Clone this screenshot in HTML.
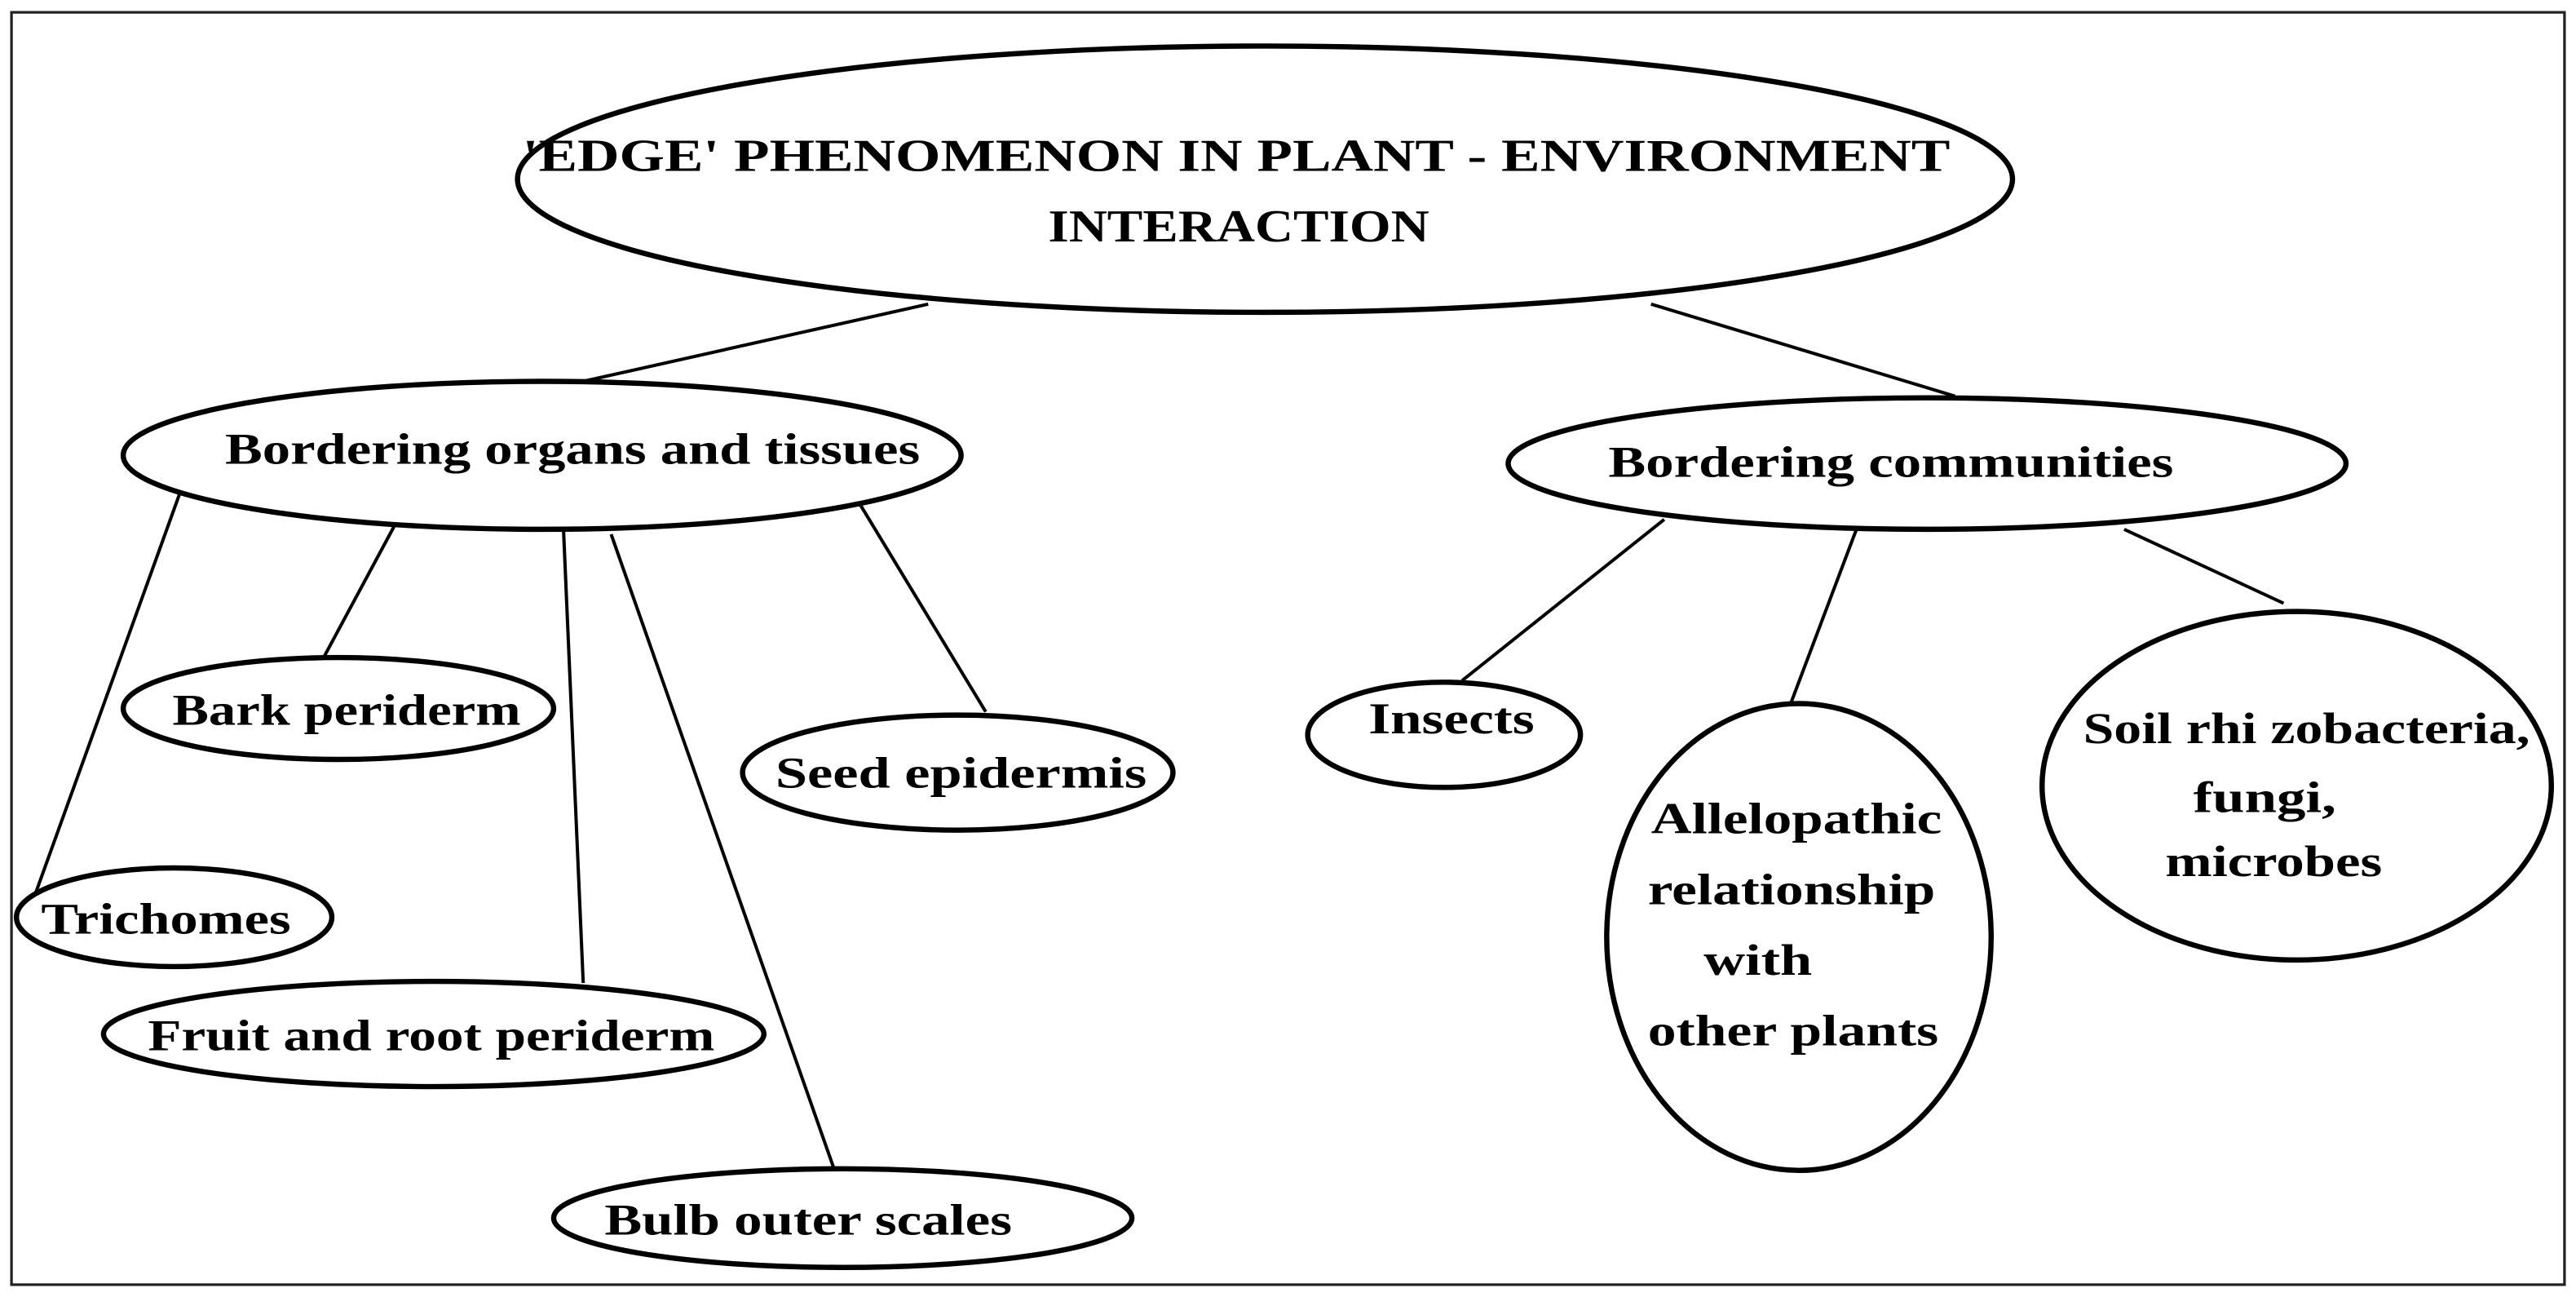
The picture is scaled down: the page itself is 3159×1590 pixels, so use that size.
<!DOCTYPE html>
<html><head><meta charset="utf-8"><style>
html,body{margin:0;padding:0;background:#fff;width:3159px;height:1590px;overflow:hidden}
svg{display:block}
text{font-family:"Liberation Serif",serif;font-weight:bold;fill:#000}
</style></head><body>
<svg width="3159" height="1590" viewBox="0 0 1568 789" preserveAspectRatio="none">
<rect x="7" y="7.5" width="1554" height="774" fill="none" stroke="#222" stroke-width="1.6"/>
<g stroke="#000" stroke-width="2" fill="none">
<line x1="565" y1="185" x2="355" y2="232"/>
<line x1="1005" y1="185" x2="1190" y2="241"/>
<line x1="240" y1="320" x2="197" y2="400"/>
<line x1="112" y1="293" x2="20" y2="548"/>
<line x1="343" y1="322" x2="355" y2="598"/>
<line x1="372" y1="325" x2="508" y2="712"/>
<line x1="523" y1="306" x2="600" y2="433"/>
<line x1="1013" y1="316" x2="890" y2="414"/>
<line x1="1130" y1="322" x2="1090" y2="428"/>
<line x1="1293" y1="322" x2="1390" y2="367"/>
</g>
<g stroke="#000" stroke-width="3.2" fill="#fff">
<ellipse cx="770" cy="109" rx="455" ry="81"/>
<ellipse cx="330" cy="277" rx="255" ry="45"/>
<ellipse cx="1173" cy="282" rx="255" ry="40"/>
<ellipse cx="206" cy="431" rx="131" ry="31"/>
<ellipse cx="106" cy="558" rx="96" ry="30"/>
<ellipse cx="264" cy="629" rx="201" ry="32"/>
<ellipse cx="513" cy="741" rx="176" ry="30"/>
<ellipse cx="583" cy="470" rx="131" ry="35"/>
<ellipse cx="879" cy="447" rx="83" ry="32"/>
<ellipse cx="1095" cy="570" rx="117" ry="142"/>
<ellipse cx="1398" cy="478" rx="155" ry="106"/>
</g>
<g font-size="28">
<text x="318" y="104" textLength="869" lengthAdjust="spacingAndGlyphs">'EDGE' PHENOMENON   IN PLANT -  ENVIRONMENT</text>
<text x="638" y="147" textLength="232" lengthAdjust="spacingAndGlyphs">INTERACTION</text>
</g>
<g font-size="27">
<text x="137" y="282" textLength="423" lengthAdjust="spacingAndGlyphs">Bordering organs and tissues</text>
<text x="979" y="290" textLength="344" lengthAdjust="spacingAndGlyphs">Bordering communities</text>
<text x="105" y="441" textLength="212" lengthAdjust="spacingAndGlyphs">Bark periderm</text>
<text x="25" y="568" textLength="152" lengthAdjust="spacingAndGlyphs">Trichomes</text>
<text x="90" y="639" textLength="345" lengthAdjust="spacingAndGlyphs">Fruit and root periderm</text>
<text x="368" y="751" textLength="248" lengthAdjust="spacingAndGlyphs">Bulb outer scales</text>
<text x="472" y="479" textLength="226" lengthAdjust="spacingAndGlyphs">Seed epidermis</text>
<text x="833" y="446" textLength="101" lengthAdjust="spacingAndGlyphs">Insects</text>
<text x="1005" y="507" textLength="177" lengthAdjust="spacingAndGlyphs">Allelopathic</text>
<text x="1003" y="550" textLength="175" lengthAdjust="spacingAndGlyphs">relationship</text>
<text x="1037" y="593" textLength="66" lengthAdjust="spacingAndGlyphs">with</text>
<text x="1003" y="636" textLength="177" lengthAdjust="spacingAndGlyphs">other plants</text>
<text x="1268" y="452" textLength="272" lengthAdjust="spacingAndGlyphs">Soil rhi zobacteria,</text>
<text x="1335" y="494" textLength="87" lengthAdjust="spacingAndGlyphs">fungi,</text>
<text x="1318" y="533" textLength="132" lengthAdjust="spacingAndGlyphs">microbes</text>
</g>
</svg>
</body></html>
